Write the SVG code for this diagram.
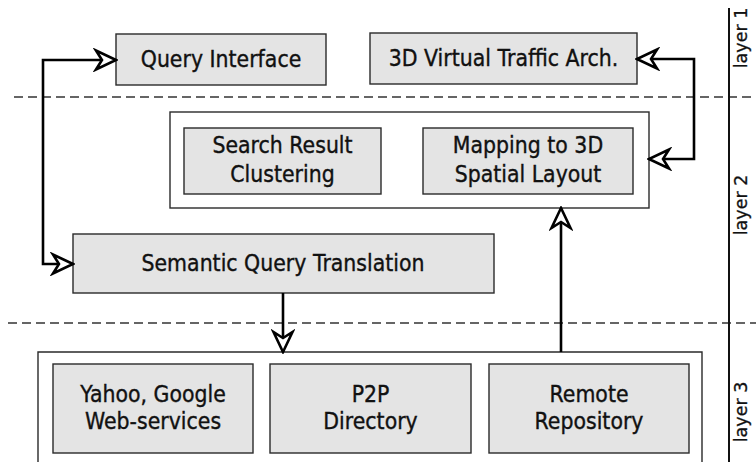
<svg xmlns="http://www.w3.org/2000/svg" width="756" height="462" viewBox="0 0 756 462">
  <style>
    .box { fill: #e4e4e4; stroke: #2a2a2a; stroke-width: 1.4; }
    .frame { fill: #ffffff; stroke: #2a2a2a; stroke-width: 1.4; }
    .open { fill: none; stroke: #2a2a2a; stroke-width: 1.4; }
    .lbl { font-family: "DejaVu Sans", Verdana, sans-serif; font-size: 20.5px; fill: #111; stroke: #111; stroke-width: 0.35; text-anchor: middle; }
    .layer { font-family: "DejaVu Sans", Verdana, sans-serif; font-size: 17.5px; fill: #111; stroke: #111; stroke-width: 0.3; text-anchor: middle; }
    .sep { stroke: #333; stroke-width: 1.3; stroke-dasharray: 9 5; fill: none; }
    .conn { fill: none; stroke: #000; stroke-width: 2.6; }
  </style>
  <defs>
    <marker id="tri" markerUnits="userSpaceOnUse" viewBox="-23 -12 25 24" refX="0" refY="0" markerWidth="25" markerHeight="24" orient="auto-start-reverse">
      <path d="M0,0 L-20,-9.5 L-14,0 L-20,9.5 Z" fill="#fff" stroke="#000" stroke-width="2.6" stroke-linejoin="miter"/>
    </marker>
  </defs>

  <!-- layer separators -->
  <g id="separators">
    <line class="sep" x1="14" y1="97" x2="756" y2="97"/>
    <line class="sep" x1="8" y1="323" x2="756" y2="323"/>
    <line x1="729" y1="8" x2="729" y2="462" stroke="#111" stroke-width="2"/>
  </g>

  <!-- layer captions -->
  <g id="layer-labels">
    <text class="layer" transform="translate(747,38) rotate(-90)">layer 1</text>
    <text class="layer" transform="translate(747,205) rotate(-90)">layer 2</text>
    <text class="layer" transform="translate(747,412) rotate(-90)">layer 3</text>
  </g>

  <!-- layer 1 -->
  <g id="query-interface">
    <rect class="box" x="116" y="34" width="210" height="51"/>
    <text class="lbl" transform="translate(221,67) scale(1,1.12)">Query Interface</text>
  </g>
  <g id="virtual-traffic-arch">
    <rect class="box" x="370" y="33" width="267" height="51"/>
    <text class="lbl" transform="translate(503.5,66) scale(1,1.12)">3D Virtual Traffic Arch.</text>
  </g>

  <!-- layer 2 -->
  <g id="layer2-container">
    <rect class="frame" x="170" y="112" width="479" height="96"/>
  </g>
  <g id="search-result-clustering">
    <rect class="box" x="184" y="128" width="197" height="66"/>
    <text class="lbl" transform="translate(282.5,153) scale(1,1.12)">Search Result</text>
    <text class="lbl" transform="translate(282.5,182) scale(1,1.12)">Clustering</text>
  </g>
  <g id="mapping-3d-layout">
    <rect class="box" x="423" y="128" width="210" height="66"/>
    <text class="lbl" transform="translate(528,153) scale(1,1.12)">Mapping to 3D</text>
    <text class="lbl" transform="translate(528,182) scale(1,1.12)">Spatial Layout</text>
  </g>
  <g id="semantic-query-translation">
    <rect class="box" x="73" y="234" width="421" height="59"/>
    <text class="lbl" transform="translate(283,271) scale(1,1.12)">Semantic Query Translation</text>
  </g>

  <!-- layer 3 -->
  <g id="layer3-container">
    <path class="open" d="M38,470 L38,352 L702,352 L702,470"/>
  </g>
  <g id="yahoo-google">
    <rect class="box" x="53" y="364" width="200" height="89"/>
    <text class="lbl" transform="translate(153,402) scale(1,1.12)">Yahoo, Google</text>
    <text class="lbl" transform="translate(153,429) scale(1,1.12)">Web-services</text>
  </g>
  <g id="p2p-directory">
    <rect class="box" x="270" y="364" width="201" height="89"/>
    <text class="lbl" transform="translate(370.5,402) scale(1,1.12)">P2P</text>
    <text class="lbl" transform="translate(370.5,429) scale(1,1.12)">Directory</text>
  </g>
  <g id="remote-repository">
    <rect class="box" x="489" y="364" width="200" height="89"/>
    <text class="lbl" transform="translate(589,402) scale(1,1.12)">Remote</text>
    <text class="lbl" transform="translate(589,429) scale(1,1.12)">Repository</text>
  </g>

  <!-- connectors -->
  <g id="connectors">
    <path class="conn" d="M73,264 L43,264 L43,60 L116,60" marker-start="url(#tri)" marker-end="url(#tri)"/>
    <path class="conn" d="M637,59 L694,59 L694,159 L649,159" marker-start="url(#tri)" marker-end="url(#tri)"/>
    <path class="conn" d="M283,293 L283,352" marker-end="url(#tri)"/>
    <path class="conn" d="M561,352 L561,208" marker-end="url(#tri)"/>
  </g>
</svg>
